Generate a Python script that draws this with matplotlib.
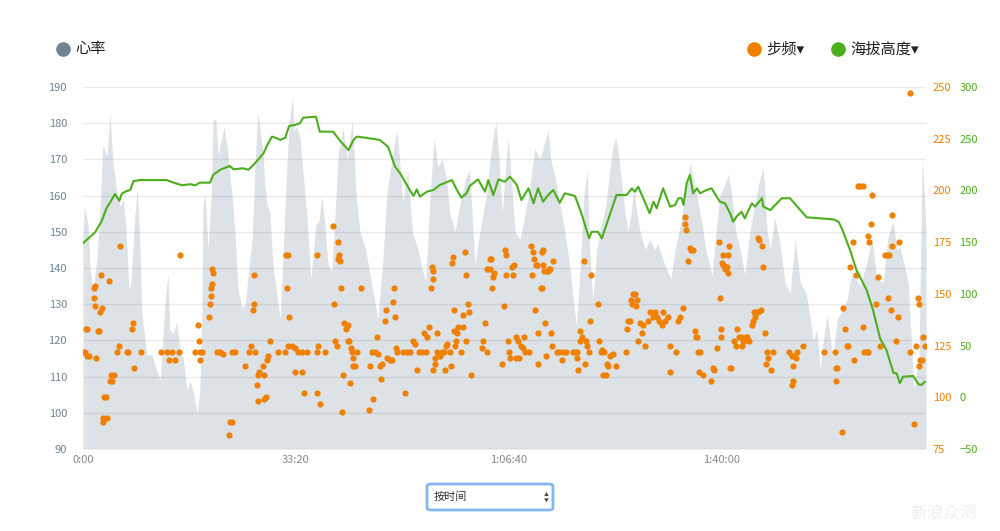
import matplotlib
matplotlib.use("Agg")
import matplotlib.pyplot as plt
from matplotlib.lines import Line2D
from matplotlib.patches import FancyBboxPatch

plt.rcParams['font.family'] = ['Noto Sans CJK SC', 'DejaVu Sans']

# heart rate (minutes, bpm)
hr_t = [0.0, 0.2, 0.8, 1.1, 1.6, 2.2, 2.7, 3.1, 3.8, 4.2, 4.7, 5.3, 5.8, 6.3, 6.7, 7.2, 7.5, 8.1, 8.5, 8.9,
        9.2, 10.0, 10.8, 11.3, 12.1, 12.5, 12.8, 13.3, 13.6, 14.1, 14.7, 15.2, 15.7, 16.3, 16.8, 17.2, 17.9, 18.3, 18.6, 18.8,
        19.1, 19.6, 20.1, 20.4, 20.8, 21.2, 21.6, 22.1, 22.6, 23.3, 23.8, 24.3, 24.9, 25.4, 25.9, 26.5, 27.0, 27.4,
        27.9, 28.2, 28.5, 28.8, 29.3, 29.8, 30.2, 30.9, 31.5, 31.8, 32.3, 32.8, 33.1, 33.5, 34.0, 34.5, 35.1, 35.7, 36.5, 37.0,
        37.4, 37.9, 38.4, 39.0, 39.5, 40.0, 40.4, 40.7, 41.4, 42.2, 42.8, 43.4, 44.3, 45.3, 46.2, 46.9, 47.6, 48.4, 49.2, 49.7,
        50.1, 50.9, 51.6, 52.5, 53.1, 53.7, 54.4, 55.0, 55.6, 56.3, 56.9, 57.5, 58.3, 59.1, 60.0, 60.6, 61.4, 62.2, 63.2, 63.8,
        64.4, 64.7, 65.2, 65.7, 66.1, 66.6, 67.1, 67.7, 68.5, 69.3, 70.0, 70.8, 71.6, 72.4, 72.9, 73.3, 74.0, 74.7, 75.5, 76.3,
        77.3, 77.9, 78.5, 79.0, 79.4, 79.9, 80.5, 81.0, 82.0, 82.6, 83.1, 83.5, 84.0, 84.5, 84.9, 85.4, 85.9, 86.3, 86.8, 87.3,
        88.1, 88.8, 89.6, 90.1, 90.7, 91.4, 92.1, 92.8, 93.6, 94.3, 95.1, 95.7, 96.4, 97.0, 97.6, 98.6, 99.2, 99.8, 100.6, 101.1,
        101.7, 102.3, 103.0, 103.7, 104.5, 105.3, 106.1,
        106.6, 107.2, 107.7, 108.4, 109.2, 110.0, 110.8, 111.6, 112.4, 113.3, 113.9, 114.4, 115.0, 115.5, 116.0, 116.6, 117.1, 117.5, 118.2, 118.6,
        119.7, 120.5, 121.1, 121.8, 122.9, 123.6, 124.4, 125.4, 126.1, 126.9, 127.6, 128.0, 128.8, 129.3, 129.8, 130.2, 130.7, 131.0, 131.5, 131.8,
        132.1]
hr_v = [150, 157, 152, 140, 134, 143, 157, 174, 171, 183, 169, 161, 157, 159, 152, 134, 136, 154, 162, 148,
        128, 116, 116, 113, 109, 120, 129, 139, 123, 122, 125, 117, 115, 106, 109, 106, 100, 106, 125, 157,
        161, 145, 161, 181, 181, 171, 175, 179, 173, 161, 150, 134, 129, 130, 138, 148, 170, 183,
        176, 172, 163, 158, 155, 140, 135, 126, 150, 163, 180, 187, 178, 179, 176, 166, 154, 137, 152, 153,
        160, 152, 141, 139, 155, 172, 175, 179, 170, 181, 160, 150, 145, 135, 126, 140, 160, 170, 178, 168,
        158, 167, 150, 145, 140, 136, 160, 176, 168, 170, 165, 155, 150, 158, 165, 167, 141, 150, 160, 170,
        178, 180, 170, 155, 165, 176, 165, 150, 148, 155, 162, 173, 170, 175, 178, 170, 165, 158, 150, 140,
        124, 140, 160, 167, 145, 131, 145, 150, 158, 168, 174, 176, 170, 162, 156, 150, 155, 162, 155, 150,
        145, 148, 145, 147, 143, 140, 137, 145, 152, 160, 169, 164, 158, 152, 145, 138, 150, 160, 163, 166,
        160, 150, 145, 138, 150, 158, 165,
        168, 150, 145, 154, 147, 136, 133, 148, 136, 133, 127, 120, 123, 112, 120, 127, 121, 115, 126, 127,
        131, 139, 137, 135, 142, 148, 137, 136, 148, 153, 145, 146, 140, 136, 120, 106, 112, 115, 170, 162,
        150]

# altitude (minutes, m)
alt_t = [0.0, 1.1, 1.9, 2.9, 3.7, 4.5, 5.0, 5.7, 6.1, 6.7, 7.4, 7.9, 8.9, 13.1, 14.2, 15.5, 16.8, 17.6, 18.3, 19.9,
         20.4, 21.5, 23.0, 23.6, 25.1, 25.9, 26.7, 28.3, 28.8, 29.6, 30.4, 30.9, 31.7, 32.3, 33.2, 34.0, 34.5, 36.5, 37.1, 39.2,
         40.3, 41.6, 42.4, 42.9, 44.2, 46.5, 47.8, 48.9, 49.7, 51.2, 51.8, 52.3, 52.8, 53.9, 54.9, 55.9, 57.8, 58.6, 59.3, 60.1,
         60.6, 61.9, 63.0, 63.5, 64.3, 65.1, 66.1, 66.9, 68.0, 68.7, 69.8, 70.6, 71.3, 72.1, 72.9, 73.7, 74.7, 75.5, 77.1, 78.1,
         79.3, 79.7, 80.7, 81.3, 83.6, 85.2, 86.0, 86.5, 87.0, 87.8, 88.8, 89.4, 89.9, 90.9, 92.0, 92.8, 93.3, 93.8, 94.1, 94.6,
         95.1, 95.6, 96.2, 96.7, 97.2, 97.7, 98.5, 99.3, 99.8, 100.6, 101.4, 101.9, 102.4, 103.2, 103.7, 104.8, 105.3, 106.4, 106.6, 107.7,
         109.5, 110.8, 112.4, 113.4, 117.6, 118.4, 118.9, 120.2, 121.2, 122.8, 123.8, 124.9, 125.9, 127.0, 127.5, 128.0, 128.5, 130.1, 130.9, 131.4,
         131.9]
alt_v = [149, 155, 159.5, 170, 183, 191, 196.5, 190, 197, 199, 200.4, 209, 210, 210, 207.5, 205, 206, 205, 207.5, 207.5,
         215, 220, 223.6, 220.4, 221.4, 220, 224.6, 236, 243, 252, 250.4, 248.8, 251, 262.3, 263.3, 265, 270.3, 271.3, 256.8, 256.8,
         247.8, 239, 248.8, 252, 251, 248.8, 242.3, 223, 216.5, 200.4, 194.6, 201, 194, 198.8, 200.4, 205.2, 210, 200.4, 193, 197.2,
         204.3, 210.7, 198.8, 210, 195.6, 210.7, 208.4, 213.3, 205.2, 190.7, 202, 187.5, 202, 189.1, 195.6, 200.4, 188.1, 197.2, 194.6, 177.9,
         153.7, 160, 160, 153.7, 195.6, 195.6, 202, 198.8, 203.6, 192.4, 177.9, 189.1, 182.7, 202, 184.3, 186, 192.4, 192.4, 186, 206.9,
         215, 197.2, 202, 197.2, 198.8, 200.4, 202, 194, 189.1, 187.5, 177.9, 169.7, 174.6, 179.4, 173, 187.5, 184.3, 192.4, 184.3, 181,
         192.4, 192.4, 181, 174, 172, 169.7, 163.4, 142.4, 123, 103.7, 84.4, 57, 45.7, 23.7, 23.1, 13.5, 19.9, 20.6, 12.8, 11.9,
         15]

# cadence (minutes, steps/min)
cad_t = [0.0, 0.3, 0.5, 0.6, 0.6, 0.9, 1.7, 1.7, 1.9, 1.9,
         2.0, 2.4, 2.5, 2.7, 2.8, 3.0, 3.1, 3.1, 3.3, 3.6,
         3.8, 4.1, 4.2, 4.4, 4.5, 4.9, 5.3, 5.6, 5.8, 6.9,
         7.1, 7.7, 7.8, 8.0, 9.1, 12.2, 13.2, 13.5, 13.9, 14.4,
         15.0, 15.2, 17.6, 18.0, 18.2, 18.3, 18.3, 18.6, 19.7, 19.9,
         20.1, 20.1, 20.2, 20.2, 20.4, 21.0, 21.5, 21.9, 22.9, 23.0,
         23.3, 23.3, 23.8, 25.4, 26.0, 26.3, 26.6, 26.8, 26.8, 27.0,
         27.3, 27.4, 27.6, 27.4, 28.2, 28.4, 28.4, 28.7, 28.8, 29.0,
         29.3, 30.6, 31.7, 31.8, 32.1, 32.0, 32.3, 32.1, 32.8, 33.2,
         33.2, 33.7, 34.3, 34.3, 34.6, 35.1, 36.7, 36.7, 36.7, 36.8,
         37.1, 37.9, 39.2, 39.3, 39.5, 39.8, 40.0, 40.0, 40.1, 40.3,
         40.4, 40.6, 40.7, 40.9, 41.2, 41.5, 41.5, 41.7, 41.8, 42.0,
         42.2, 42.3, 42.3, 42.6, 42.9, 43.6, 44.8, 45.0, 45.3, 45.4,
         45.8, 46.1, 46.2, 46.5, 46.7, 46.9, 47.3, 47.5, 47.6, 48.1,
         48.4, 48.6, 48.7, 48.9, 49.0, 49.2, 50.1, 50.5, 50.8, 51.2,
         51.7, 52.0, 52.3, 52.7, 53.1, 53.4, 53.7, 53.9, 54.2, 54.5,
         54.7, 54.8, 54.8, 54.8, 55.2, 55.2, 55.5, 55.5, 55.9, 56.3,
         56.6, 56.7, 56.9, 57.0, 57.5, 57.7, 57.8, 58.0, 58.1, 58.1,
         58.3, 58.4, 58.6, 58.8, 59.2, 59.5, 59.5, 59.9, 60.0, 60.0,
         60.3, 60.5, 60.8, 62.5, 62.7, 63.0, 63.3, 63.3, 63.8, 63.8,
         63.9, 64.1, 64.2, 64.4, 65.7, 66.0, 66.1, 66.3, 66.3, 66.6,
         66.8, 66.9, 67.2, 67.4, 67.5, 67.9, 67.9, 68.2, 68.3, 68.6,
         68.9, 69.1, 69.3, 69.9, 70.2, 70.4, 70.5, 70.7, 70.8, 71.0,
         71.1, 71.3, 71.3, 71.8, 71.9, 71.9, 72.1, 72.1, 72.2, 72.4,
         72.6, 72.7, 72.9, 73.0, 73.2, 73.3, 73.5, 73.6, 74.3, 74.6,
         75.1, 75.2, 75.7, 76.8, 77.1, 77.4, 77.4, 77.6, 77.9, 77.9,
         78.2, 78.5, 78.7, 78.8, 79.0, 79.3, 79.4, 79.6, 80.7, 80.9,
         81.2, 81.3, 81.5, 81.6, 82.0, 82.1, 82.3, 82.6, 83.1, 83.5,
         85.1, 85.2, 85.4, 85.7, 85.9, 86.0, 86.2, 86.5, 86.7, 86.8,
         87.0, 87.3, 87.6, 87.8, 88.1, 88.5, 88.8, 89.3, 89.6, 89.9,
         90.3, 90.7, 90.9, 91.2, 91.7, 92.0, 92.0, 92.9, 93.2, 93.6,
         94.0, 94.3, 94.3, 94.5, 94.8, 95.1, 95.3, 95.6, 95.9, 96.1,
         96.2, 96.4, 96.7, 96.5, 97.2, 98.4, 98.7, 98.9, 99.3, 99.7,
         99.8, 100.0, 100.0, 100.1, 100.3, 100.3, 100.6, 100.8, 100.9, 101.1,
         101.1, 101.2, 101.4, 101.5, 102.0, 102.3, 102.5, 102.8, 103.1, 103.3,
         103.4, 103.6, 103.9, 104.0, 104.4, 104.8, 105.0, 105.1, 105.3, 105.5,
         105.8, 105.8, 105.9, 106.2, 106.4, 106.6, 106.9, 107.0, 107.2, 107.3,
         107.8, 108.1, 110.6, 111.1, 111.3, 111.4, 111.3, 111.1, 111.7, 111.9,
         112.8, 116.1, 117.8, 118.0, 118.1, 118.0, 118.9, 119.1, 119.4, 119.7,
         119.9, 120.2, 120.6, 120.8, 121.1, 121.4, 121.8, 122.2, 122.2, 122.4,
         122.9, 123.0, 123.0, 123.2, 123.5, 123.6, 124.3, 124.6, 124.9, 125.7,
         126.0, 126.3, 126.1, 126.6, 126.8, 126.8, 127.4, 127.7, 127.9, 129.6,
         129.6, 130.2, 130.5, 130.8, 131.0, 131.0, 131.2, 131.5, 131.6, 131.9]
cad_v = [122, 122, 133, 133, 120, 120, 148, 153, 154, 144,
         119, 132, 132, 141, 159, 143, 90, 88, 100, 100,
         90, 156, 108, 111, 108, 111, 122, 125, 173, 122,
         122, 133, 136, 114, 122, 122, 122, 118, 122, 118,
         122, 169, 122, 135, 127, 122, 118, 122, 139, 145,
         149, 153, 155, 162, 160, 122, 122, 121, 82, 88,
         88, 122, 122, 115, 122, 125, 142, 159, 145, 122,
         106, 111, 112, 98, 115, 111, 99, 100, 118, 120,
         127, 122, 122, 169, 169, 153, 139, 125, 125, 112,
         124, 122, 122, 112, 102, 122, 122, 169, 102, 125,
         97, 122, 183, 145, 127, 125, 175, 167, 169, 166,
         153, 93, 111, 136, 133, 135, 127, 127, 107, 124,
         122, 119, 115, 115, 122, 153, 94, 115, 122, 99,
         122, 129, 121, 115, 109, 116, 137, 142, 119, 118,
         118, 146, 153, 139, 124, 122, 122, 102, 122, 122,
         127, 126, 113, 122, 122, 131, 122, 129, 134, 153,
         163, 161, 157, 113, 116, 119, 131, 122, 120, 122,
         122, 113, 125, 126, 122, 115, 165, 168, 142, 132,
         125, 127, 131, 134, 122, 134, 140, 170, 127, 159,
         145, 141, 111, 124, 127, 136, 122, 162, 162, 167,
         167, 153, 158, 160, 116, 144, 171, 159, 169, 127,
         122, 119, 163, 159, 164, 129, 119, 127, 119, 125,
         124, 129, 122, 122, 173, 159, 170, 167, 142, 164,
         164, 116, 131, 153, 153, 170, 171, 164, 161, 136,
         120, 161, 161, 162, 162, 131, 125, 166, 122, 122,
         118, 122, 122, 122, 122, 119, 122, 113, 132, 127,
         129, 166, 116, 127, 125, 122, 137, 159, 145, 127,
         122, 123, 111, 122, 111, 116, 115, 120, 121, 115,
         122, 133, 137, 137, 147, 145, 150, 150, 144, 147,
         127, 136, 131, 135, 125, 137, 141, 139, 141, 139,
         137, 135, 141, 137, 139, 125, 112, 122, 137, 139,
         143, 187, 184, 181, 166, 172, 171, 171, 132, 129,
         129, 122, 122, 112, 111, 108, 114, 113, 124, 175,
         148, 133, 129, 165, 169, 164, 162, 163, 163, 169,
         160, 173, 114, 114, 127, 125, 133, 129, 129, 125,
         127, 127, 129, 129, 127, 135, 137, 141, 139, 141,
         141, 177, 176, 142, 173, 163, 131, 116, 122, 119,
         113, 122, 122, 120, 115, 120, 108, 106, 119, 122,
         125, 122, 122, 114, 114, 108, 83, 143, 133, 125,
         125, 163, 175, 118, 159, 202, 202, 202, 134, 122,
         122, 122, 178, 175, 184, 198, 145, 158, 125, 169,
         169, 169, 148, 142, 173, 188, 127, 139, 175, 122,
         247, 87, 125, 148, 145, 115, 118, 118, 129, 125]

x_ticks = [0, 100 / 3, 200 / 3, 100]
x_labels = ['0:00', '33:20', '1:06:40', '1:40:00']

c_hr = '#6d8597'
c_cad = '#f08000'
c_alt = '#4cae1c'

fig = plt.figure(figsize=(10, 5.31), dpi=100)
ax = fig.add_axes([0.083, 0.1544, 0.843, 0.6818])

ax.fill_between(hr_t, hr_v, 90, color='#dde2e6', lw=0, zorder=1)
for v in range(90, 191, 10):
    ax.axhline(v, color='black', alpha=0.08, lw=1, zorder=2)
ax.set_xlim(0, 132.1)
ax.set_ylim(90, 190)
ax.set_yticks(range(90, 191, 10))
ax.set_xticks(x_ticks)
ax.set_xticklabels(x_labels)
ax.tick_params(axis='y', length=0, pad=11.5, labelsize=8, labelcolor=c_hr)
ax.tick_params(axis='x', length=0, pad=4.5, labelsize=8, labelcolor='#888888')

ax2 = ax.twinx()
ax2.scatter(cad_t, cad_v, s=20, color=c_cad, lw=0, zorder=4)
ax2.set_ylim(75, 250)
ax2.set_yticks(range(75, 251, 25))
ax2.tick_params(axis='y', length=0, pad=5, labelsize=8, labelcolor=c_cad)

ax3 = ax.twinx()
ax3.plot(alt_t, alt_v, color=c_alt, lw=1.5)
ax3.set_ylim(-50, 300)
ax3.set_yticks(range(-50, 301, 50))
ax3.tick_params(axis='y', length=0, pad=24, labelsize=8, labelcolor=c_alt)

for a in (ax, ax2, ax3):
    for s in a.spines.values():
        s.set_visible(False)

# legend row
def legend_item(x, y, color, label):
    fig.add_artist(Line2D([x / 1000], [1 - y / 531], marker='o', ms=9.5, color=color,
                          lw=0, transform=fig.transFigure))
    fig.text((x + 12) / 1000, 1 - y / 531, label, fontsize=11, color='#222222',
             va='center', ha='left')

legend_item(63, 49, c_hr, '心率')
legend_item(754, 49, c_cad, '步频▾')
legend_item(838, 49, c_alt, '海拔高度▾')

# select box
box = FancyBboxPatch((0.427, 1 - 510 / 531), 0.126, 26 / 531,
                     boxstyle='round,pad=0,rounding_size=0.004',
                     transform=fig.transFigure, ec='#86b7f0', fc='white', lw=2)
fig.add_artist(box)
fig.text(0.434, 1 - 497 / 531, '按时间', fontsize=8, color='#333333', va='center')
fig.text(0.546, 1 - 494 / 531, '▲', fontsize=3.5, color='#444444', va='center', ha='center')
fig.text(0.546, 1 - 500 / 531, '▼', fontsize=3.5, color='#444444', va='center', ha='center')

# watermark
fig.text(0.91, 1 - 513 / 531, '新浪众测', fontsize=12, color='#eeeeee', va='center')

fig.savefig('out.png', dpi=100)
